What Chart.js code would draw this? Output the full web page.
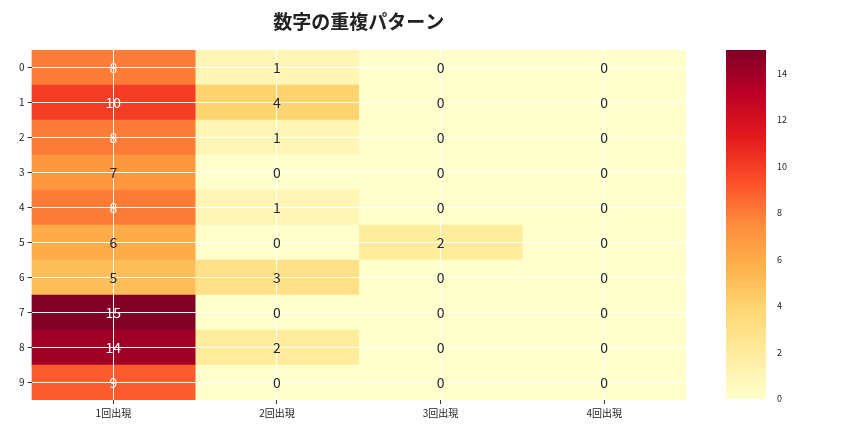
<!DOCTYPE html>
<html><head><meta charset="utf-8">
<script src="https://cdn.jsdelivr.net/npm/chart.js@4"></script>
<style>
body{margin:0;background:#fff}
#wrap{position:relative;width:864px;height:432px}
#main{position:absolute;left:0;top:0}
#bar{position:absolute;left:700px;top:0}
</style></head><body>
<div id="wrap"><canvas id="main" width="864" height="432"></canvas><canvas id="bar" width="90" height="432"></canvas></div>
<script>
const rows = ['0','1','2','3','4','5','6','7','8','9'];
const cols = ['1回出現','2回出現','3回出現','4回出現'];
const once  = [8,10,8,7,8,6,5,15,14,9];
const twice = [1,4,1,0,1,0,3,0,2,0];
const three = [0,0,0,0,0,2,0,0,0,0];
const four  = [0,0,0,0,0,0,0,0,0,0];
const series = [once, twice, three, four];
const vmax = 15;

const stops = ['#ffffcc','#ffeda0','#fed976','#feb24c','#fd8d3c','#fc4e2a','#e31a1c','#bd0026','#800026'];
function hex(h){return [1,3,5].map(i=>parseInt(h.substr(i,2),16));}
function cmap(v){
  let t = Math.max(0, Math.min(1, v / vmax)) * 8;
  let i = Math.min(7, Math.floor(t)), f = t - i;
  let a = hex(stops[i]), b = hex(stops[i+1]);
  let c = a.map((x,k)=>Math.round(x + (b[k]-x)*f));
  return `rgb(${c[0]},${c[1]},${c[2]})`;
}
const font = '"Noto Sans CJK JP", "DejaVu Sans", sans-serif';

const cellText = {
  id: 'cellText',
  afterDraw(chart) {
    const ctx = chart.ctx;
    ctx.save();
    ctx.font = '14px ' + font;
    ctx.textAlign = 'center'; ctx.textBaseline = 'middle';
    chart.data.datasets.forEach((ds, j) => {
      chart.getDatasetMeta(j).data.forEach((el, i) => {
        const v = series[j][i];
        const x = chart.scales.x.getPixelForValue(j + 0.5);
        ctx.fillStyle = v > 7.5 ? '#fff' : '#262626';
        ctx.fillText(String(v), x, el.y);
      });
    });
    const a = chart.chartArea;
    ctx.font = 'bold 19px ' + font;
    ctx.fillStyle = '#222';
    ctx.fillText('数字の重複パターン', (a.left + a.right) / 2, 22);
    ctx.restore();
  }
};

new Chart(document.getElementById('main'), {
  type: 'bar',
  data: {
    labels: rows,
    datasets: series.map((s, j) => ({
      label: cols[j],
      data: s.map(() => [j, j + 1]),
      backgroundColor: s.map(v => cmap(v)),
      borderWidth: 0,
      barPercentage: 1, categoryPercentage: 1
    }))
  },
  options: {
    indexAxis: 'y',
    responsive: false, animation: false,
    layout: {padding: {left: 16, top: 50, right: 178, bottom: 10}},
    plugins: {legend: {display: false}, tooltip: {enabled: false}},
    scales: {
      y: {
        stacked: true,
        grid: {z: 1, color: '#fff', offset: false, drawTicks: true, tickColor: '#333', tickLength: 4},
        border: {display: false},
        ticks: {color: '#222', font: {size: 10, family: font}}
      },
      x: {
        min: 0, max: 4,
        afterBuildTicks(s) { s.ticks = cols.map((c, i) => ({value: i + 0.5})); },
        grid: {z: 1, color: '#fff', tickColor: '#333', tickLength: 4},
        border: {display: false},
        ticks: {color: '#222', font: {size: 10, family: font}, maxRotation: 0,
          callback: (v, i) => cols[i]}
      }
    }
  },
  plugins: [cellText]
});

const cbTicks = [0,2,4,6,8,10,12,14];
new Chart(document.getElementById('bar'), {
  type: 'bar',
  data: {labels: ['c'], datasets: [{
    data: [vmax],
    barPercentage: 1, categoryPercentage: 1, borderWidth: 0,
    backgroundColor(ctx) {
      const a = ctx.chart.chartArea;
      if (!a) return '#fff';
      const g = ctx.chart.ctx.createLinearGradient(0, a.bottom, 0, a.top);
      stops.forEach((c, i) => g.addColorStop(i / 8, c));
      return g;
    }
  }]},
  options: {
    responsive: false, animation: false,
    layout: {padding: {left: 26, top: 50, right: 0, bottom: 33}},
    plugins: {legend: {display: false}, tooltip: {enabled: false}},
    scales: {
      x: {display: false},
      y: {position: 'right', min: 0, max: vmax,
        afterBuildTicks(s) { s.ticks = cbTicks.map(v => ({value: v})); },
        grid: {display: false, drawOnChartArea: false},
        border: {display: false},
        ticks: {color: '#222', font: {size: 9, family: font}}
      }
    }
  }
});
</script>
</body></html>
